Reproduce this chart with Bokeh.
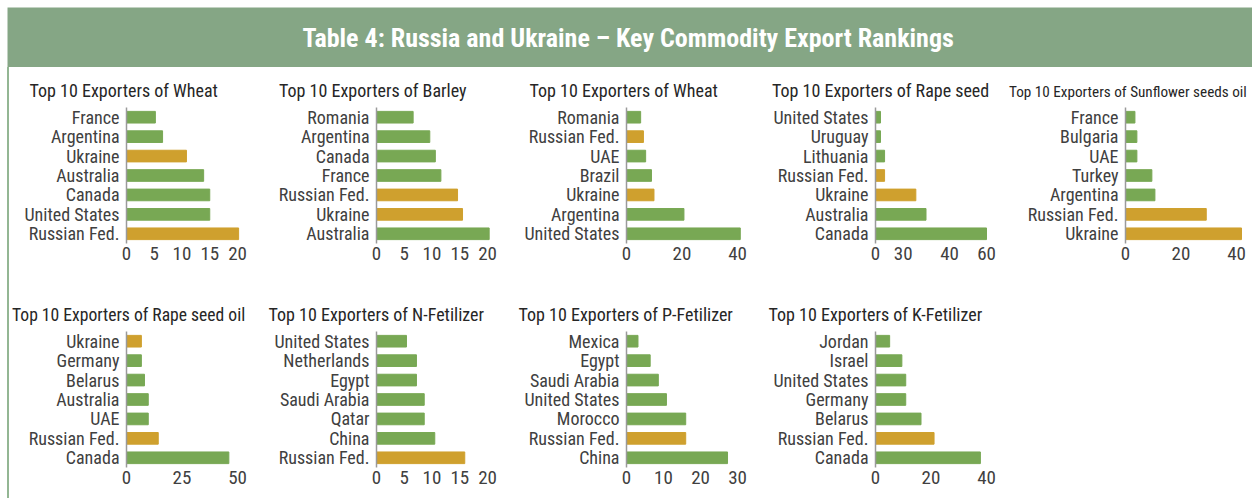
from bokeh.plotting import figure
from bokeh.models import FactorRange, Range1d, FixedTicker, Label, Spacer, ColumnDataSource, Title
from bokeh.layouts import row, column
from bokeh.embed import file_html
from bokeh.resources import INLINE

# ---------------- data ----------------
main_title = "Table 4: Russia and Ukraine \u2013 Key Commodity Export Rankings"

wheat_a_title = "Top 10 Exporters of Wheat"
wheat_a_countries = ["France", "Argentina", "Ukraine", "Australia", "Canada", "United States", "Russian Fed."]
wheat_a_values = [5.2, 6.5, 10.8, 13.9, 15.0, 15.0, 20.2]
wheat_a_ticks = [0, 5, 10, 15, 20]
wheat_a_tick_labels = ["0", "5", "10", "15", "20"]

barley_title = "Top 10 Exporters of Barley"
barley_countries = ["Romania", "Argentina", "Canada", "France", "Russian Fed.", "Ukraine", "Australia"]
barley_values = [6.6, 9.6, 10.6, 11.6, 14.6, 15.5, 20.3]
barley_ticks = [0, 5, 10, 15, 20]
barley_tick_labels = ["0", "5", "10", "15", "20"]

wheat_b_title = "Top 10 Exporters of Wheat"
wheat_b_countries = ["Romania", "Russian Fed.", "UAE", "Brazil", "Ukraine", "Argentina", "United States"]
wheat_b_values = [5.1, 6.1, 6.9, 9.0, 9.9, 20.7, 41.0]
wheat_b_ticks = [0, 20, 40]
wheat_b_tick_labels = ["0", "20", "40"]

rapeseed_title = "Top 10 Exporters of Rape seed"
rapeseed_countries = ["United States", "Uruguay", "Lithuania", "Russian Fed.", "Ukraine", "Australia", "Canada"]
rapeseed_values = [2.7, 2.7, 4.9, 4.9, 21.8, 27.3, 60.0]
rapeseed_ticks = [0, 15, 40, 60]
rapeseed_tick_labels = ["0", "30", "40", "60"]

sunflower_title = "Top 10 Exporters of Sunflower seeds oil"
sunflower_countries = ["France", "Bulgaria", "UAE", "Turkey", "Argentina", "Russian Fed.", "Ukraine"]
sunflower_values = [3.4, 4.1, 4.1, 9.5, 10.6, 29.1, 41.8]
sunflower_ticks = [0, 20, 40]
sunflower_tick_labels = ["0", "20", "40"]

rapeoil_title = "Top 10 Exporters of Rape seed oil"
rapeoil_countries = ["Ukraine", "Germany", "Belarus", "Australia", "UAE", "Russian Fed.", "Canada"]
rapeoil_values = [6.7, 6.7, 8.1, 9.8, 9.8, 14.3, 46.1]
rapeoil_ticks = [0, 25, 50]
rapeoil_tick_labels = ["0", "25", "50"]

nfert_title = "Top 10 Exporters of N-Fetilizer"
nfert_countries = ["United States", "Netherlands", "Egypt", "Saudi Arabia", "Qatar", "China", "Russian Fed."]
nfert_values = [5.4, 7.2, 7.2, 8.6, 8.6, 10.5, 15.9]
nfert_ticks = [0, 5, 10, 15, 20]
nfert_tick_labels = ["0", "5", "10", "15", "20"]

pfert_title = "Top 10 Exporters of P-Fetilizer"
pfert_countries = ["Mexica", "Egypt", "Saudi Arabia", "United States", "Morocco", "Russian Fed.", "China"]
pfert_values = [3.1, 6.4, 8.6, 10.8, 16.0, 16.0, 27.3]
pfert_ticks = [0, 10, 20, 30]
pfert_tick_labels = ["0", "10", "20", "30"]

kfert_title = "Top 10 Exporters of K-Fetilizer"
kfert_countries = ["Jordan", "Israel", "United States", "Germany", "Belarus", "Russian Fed.", "Canada"]
kfert_values = [5.1, 9.5, 10.9, 10.9, 16.4, 21.1, 37.8]
kfert_ticks = [0, 20, 40]
kfert_tick_labels = ["0", "20", "40"]

highlight = ["Russian Fed.", "Ukraine"]

# ---------------- style ----------------
FONT = "Roboto Condensed, Roboto"
BANNER = "#85a685"
BORDER_LINE = "#93b693"
GREEN = "#78a854"
GOLD = "#cfa02e"
TEXT = "#404040"
TITLE_TEXT = "#262626"

FRAME_H = 136
TOP = 40


def make_chart(title, title_w, title_size, countries, values, ticks, tick_labels,
               width, left, right, height, bottom):
    cats = list(reversed(countries))
    colors = [GOLD if c in highlight else GREEN for c in countries]
    src = ColumnDataSource(dict(cat=countries, val=values, color=colors))
    x_end = max(ticks) * 1.063
    p = figure(width=width, height=height, y_range=FactorRange(*cats, range_padding=0),
               x_range=Range1d(0, x_end), toolbar_location=None, output_backend="svg",
               min_border_left=left, min_border_right=right, min_border_top=TOP,
               min_border_bottom=bottom, outline_line_color=None)
    p.hbar(y="cat", left=0, right="val", height=0.6, color="color", source=src)
    p.grid.visible = False

    xa = p.xaxis[0]
    xa.ticker = FixedTicker(ticks=ticks)
    xa.major_label_overrides = {t: l for t, l in zip(ticks, tick_labels)}
    xa.axis_line_color = None
    xa.major_tick_line_color = None
    xa.minor_tick_line_color = None
    xa.major_tick_out = 0
    xa.major_label_standoff = 3
    xa.major_label_text_font = FONT
    xa.major_label_text_font_size = "19px"
    xa.major_label_text_color = TEXT

    ya = p.yaxis[0]
    ya.axis_line_color = "#9a9a9a"
    ya.axis_line_width = 1.5
    ya.major_tick_line_color = None
    ya.minor_tick_line_color = None
    ya.major_tick_out = 0
    ya.major_label_standoff = 7
    ya.major_label_text_font = FONT
    ya.major_label_text_font_size = "18px"
    ya.major_label_text_color = TEXT

    p.add_layout(Title(text=title, align="left", offset=-title_w / 2, standoff=14,
                       text_font=FONT, text_font_size=title_size, text_font_style="normal",
                       text_color=TITLE_TEXT), "above")
    return p


H1 = 224
H2 = 207
B1 = H1 - TOP - FRAME_H
B2 = H2 - TOP - FRAME_H

f1 = make_chart(wheat_a_title, 194, "18px", wheat_a_countries, wheat_a_values, wheat_a_ticks, wheat_a_tick_labels, 249, 117, 14, H1, B1)
f2 = make_chart(barley_title, 195, "18px", barley_countries, barley_values, barley_ticks, barley_tick_labels, 250, 118, 14, H1, B1)
f3 = make_chart(wheat_b_title, 194, "18px", wheat_b_countries, wheat_b_values, wheat_b_ticks, wheat_b_tick_labels, 250, 118, 14, H1, B1)
f4 = make_chart(rapeseed_title, 207, "18px", rapeseed_countries, rapeseed_values, rapeseed_ticks, rapeseed_tick_labels, 250, 117, 15, H1, B1)
f5 = make_chart(sunflower_title, 233, "15.2px", sunflower_countries, sunflower_values, sunflower_ticks, sunflower_tick_labels, 244, 117, 9, H1, B1)

f6 = make_chart(rapeoil_title, 229, "17.6px", rapeoil_countries, rapeoil_values, rapeoil_ticks, rapeoil_tick_labels, 249, 117, 14, H2, B2)
f7 = make_chart(nfert_title, 216, "18px", nfert_countries, nfert_values, nfert_ticks, nfert_tick_labels, 250, 118, 14, H2, B2)
f8 = make_chart(pfert_title, 216, "18px", pfert_countries, pfert_values, pfert_ticks, pfert_tick_labels, 250, 118, 14, H2, B2)
f9 = make_chart(kfert_title, 214, "18px", kfert_countries, kfert_values, kfert_ticks, kfert_tick_labels, 250, 117, 15, H2, B2)

banner = figure(width=1245, height=60, x_range=Range1d(0, 1), y_range=Range1d(0, 1),
                x_axis_location=None, y_axis_location=None, min_border=0,
                outline_line_color=None, background_fill_color=BANNER,
                border_fill_color=BANNER, toolbar_location=None, output_backend="svg")
banner.grid.visible = False
banner.add_layout(Label(x=0.4985, y=0.5, text=main_title, text_align="center", text_baseline="middle",
                        text_font=FONT, text_font_size="26px", text_font_style="bold",
                        text_color="white"))

side = Spacer(width=2, height=H1 + H2, styles={"background-color": BORDER_LINE})

body = column(banner, row(side, column(row(f1, f2, f3, f4, f5), row(f6, f7, f8, f9))))
layout = column(Spacer(width=1252, height=7), row(Spacer(width=7, height=60 + H1 + H2), body))

open("out.html", "w").write(file_html(layout, INLINE))
